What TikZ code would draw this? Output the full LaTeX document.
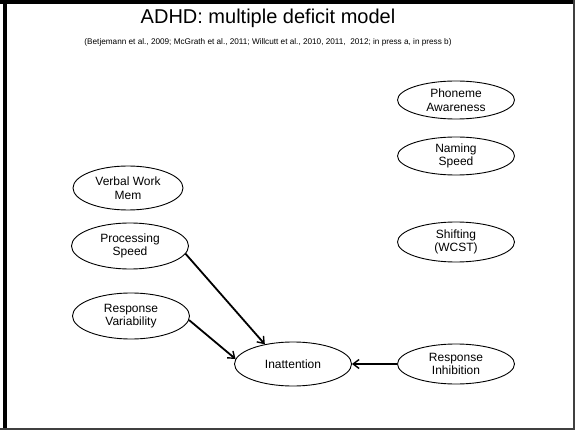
\documentclass[tikz,border=0pt]{standalone}
\usepackage{fontspec}
\setmainfont{Liberation Sans}
\usetikzlibrary{shapes.geometric,arrows.meta}
\begin{document}
\begin{tikzpicture}[x=1pt,y=-1pt,
  factor/.style={ellipse,draw,line width=0.9pt,minimum width=117pt,minimum height=42pt,inner sep=0pt,align=center,font=\fontsize{12}{13.5}\selectfont},
  link/.style={line width=1.8pt,-{Straight Barb[length=6pt,width=9pt,line width=1.4pt]}}]
\useasboundingbox (0,0) rectangle (575,430);
% frame
\fill[black] (2.5,0) rectangle (7,430);
\fill[black] (0,0) rectangle (575,4.5);
\fill[black!75] (572.8,0) rectangle (574.5,430);
\fill[black!75] (0,427.8) rectangle (575,429.5);
% titles
\node (title) at (268,18) {\fontsize{20}{22}\selectfont ADHD: multiple deficit model};
\node (sub) at (268,42) {\fontsize{8.2}{9}\selectfont (Betjemann et al., 2009; McGrath et al., 2011; Willcutt et al., 2010, 2011,\ \ 2012; in press a, in press b)};
% nodes
\node[factor,minimum height=38pt] (pa) at (456,100) {Phoneme\\Awareness};
\node[factor,minimum height=38pt] (ns) at (456,156) {Naming\\Speed};
\node[factor,minimum height=40pt] (sh) at (456,242) {Shifting\\(WCST)};
\node[factor,minimum height=40pt] (ri) at (456,364) {Response\\Inhibition};
\node[factor,minimum width=110pt,minimum height=44pt] (vw) at (128,188) {Verbal Work\\Mem};
\node[factor,minimum height=46pt] (ps) at (130,246) {Processing\\Speed};
\node[factor,minimum height=46pt] (rv) at (131,316) {Response\\Variability};
\node[factor,minimum height=44pt] (in) at (293,364) {Inattention};
% arrows
\draw[link] (ps.-8) -- (in.145);
\draw[link] (rv.-4) -- (in.175);
\draw[link] (ri.west) -- (in.east);
\end{tikzpicture}
\end{document}
